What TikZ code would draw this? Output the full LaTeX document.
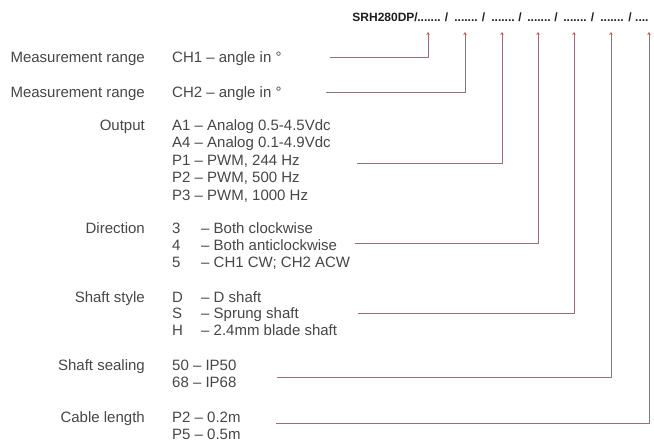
\documentclass[tikz,border=0pt]{standalone}
\usepackage{fontspec}
\setmainfont{Liberation Sans}
\usetikzlibrary{arrows.meta}
\definecolor{txt}{RGB}{70,70,70}
\definecolor{hdr}{RGB}{30,30,30}
\definecolor{linec}{RGB}{150,112,118}
\definecolor{tickc}{RGB}{205,85,85}
\tikzset{
  lbl/.style={anchor=base east, inner sep=0pt, text=txt, font=\fontsize{15}{17}\selectfont},
  code/.style={anchor=base west, inner sep=0pt, text=txt, font=\fontsize{15}{17}\selectfont},
  hd/.style={anchor=base, inner sep=0pt, text=hdr, font=\fontsize{12}{14}\selectfont\bfseries},
  conn/.style={draw=linec, line width=1pt, -{Stealth[length=3pt,width=3.5pt,color=tickc]}},
}
\begin{document}
\begin{tikzpicture}[x=1pt,y=-1pt]
\useasboundingbox (0,0) rectangle (654,442);
% header
\node[hd, anchor=base east] (h0) at (418,21) {SRH280DP/};
\foreach \i/\x in {1/429,2/466,3/503,4/539,5/575,6/612}{
  \node[hd] (d\i) at (\x,21) {.......};
}
\node[hd, anchor=base west] (d7) at (635,21) {....};
\foreach \i/\x in {1/446.5,2/483.5,3/520,4/556,5/592.5,6/630}{
  \node[hd] (sl\i) at (\x,21) {/};
}
% tick tops
\foreach \i/\x in {1/428,2/465,3/502,4/538,5/574,6/611,7/649}{
  \coordinate (t\i) at (\x,32);
}
% Measurement range 1
\node[lbl] (l1) at (145,62) {Measurement range};
\node[code] (c1) at (172,62) {CH1 – angle in °};
% Measurement range 2
\node[lbl] (l2) at (145,97) {Measurement range};
\node[code] (c2) at (172,97) {CH2 – angle in °};
% Output
\node[lbl] (l3) at (145,130) {Output};
\node[code] (c3a) at (172,130) {A1 – Analog 0.5-4.5Vdc};
\node[code] (c3b) at (172,147.5) {A4 – Analog 0.1-4.9Vdc};
\node[code] (c3c) at (172,165) {P1 – PWM, 244 Hz};
\node[code] (c3d) at (172,182.5) {P2 – PWM, 500 Hz};
\node[code] (c3e) at (172,200) {P3 – PWM, 1000 Hz};
% Direction
\node[lbl] (l4) at (145,233) {Direction};
\node[code] (k4a) at (172,233) {3};
\node[code] (c4a) at (201,233) {– Both clockwise};
\node[code] (k4b) at (172,250) {4};
\node[code] (c4b) at (201,250) {– Both anticlockwise};
\node[code] (k4c) at (172,267) {5};
\node[code] (c4c) at (201,267) {– CH1 CW; CH2 ACW};
% Shaft style
\node[lbl] (l5) at (145,302) {Shaft style};
\node[code] (k5a) at (172,302) {D};
\node[code] (c5a) at (201,302) {– D shaft};
\node[code] (k5b) at (172,318.5) {S};
\node[code] (c5b) at (201,318.5) {– Sprung shaft};
\node[code] (k5c) at (172,335) {H};
\node[code] (c5c) at (201,335) {– 2.4mm blade shaft};
% Shaft sealing
\node[lbl] (l6) at (145,370) {Shaft sealing};
\node[code] (c6a) at (172,370) {50 – IP50};
\node[code] (c6b) at (172,387) {68 – IP68};
% Cable length
\node[lbl] (l7) at (145,422) {Cable length};
\node[code] (c7a) at (172,422) {P2 – 0.2m};
\node[code] (c7b) at (172,439) {P5 – 0.5m};
% line starts
\coordinate (s1) at (330,57);
\coordinate (s2) at (326,92);
\coordinate (s3) at (357,163);
\coordinate (s4) at (355,243);
\coordinate (s5) at (358,313);
\coordinate (s6) at (277,377);
\coordinate (s7) at (276,423);
\foreach \i in {1,...,7}{
  \draw[conn] (s\i) -| (t\i);
}
\end{tikzpicture}
\end{document}
